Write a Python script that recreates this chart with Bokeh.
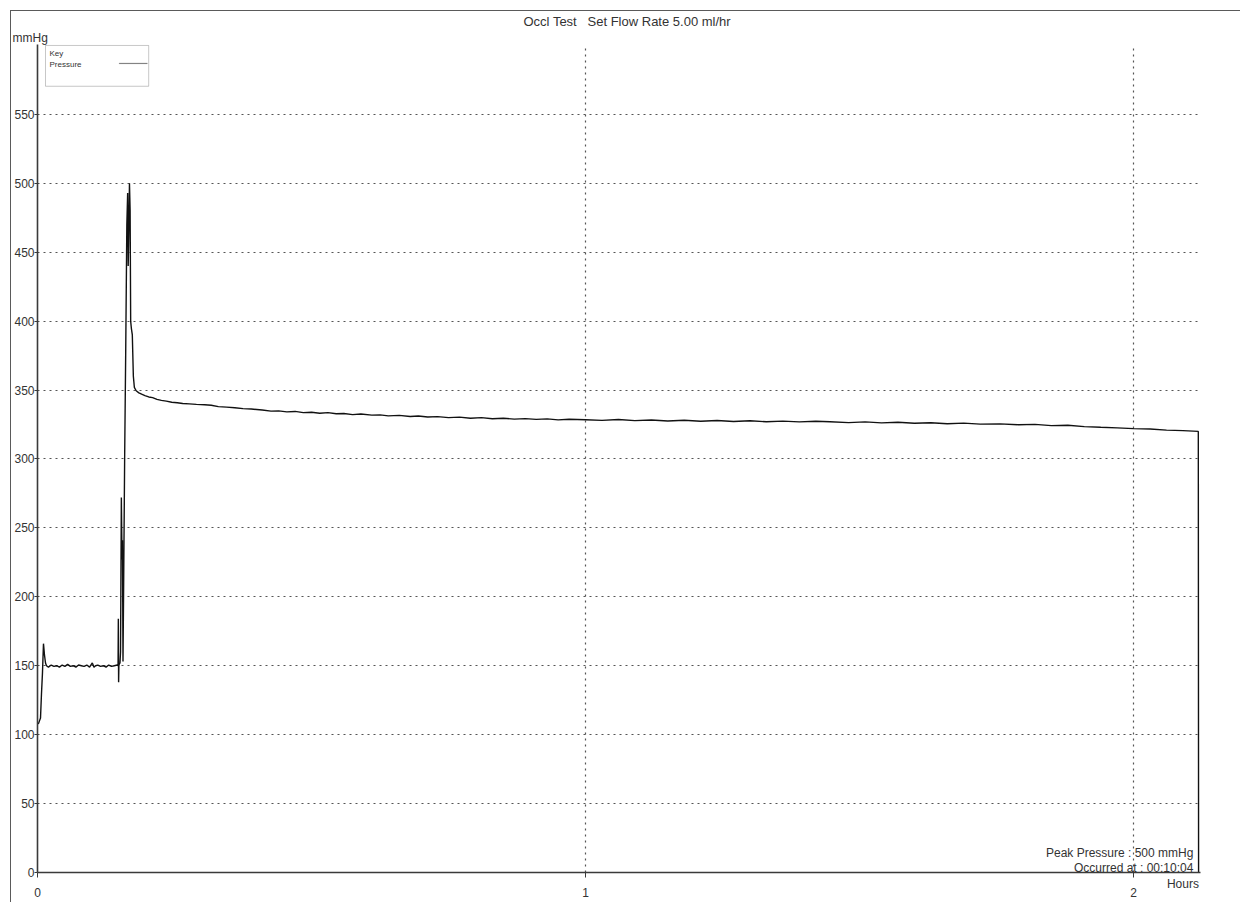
from bokeh.plotting import figure
from bokeh.models import Range1d, FixedTicker, Label, BoxAnnotation, Title, LinearAxis
from bokeh.embed import file_html
from bokeh.resources import INLINE

# ---- data (hours, mmHg) ----
time_h = [0.000, 0.0018, 0.0036, 0.0055, 0.0073, 0.0091, 0.0109, 0.0127, 0.0146, 0.0164,
          0.020, 0.025, 0.030, 0.035, 0.040, 0.045, 0.050, 0.055, 0.060, 0.065,
          0.070, 0.075, 0.080, 0.085, 0.090, 0.095, 0.100, 0.103, 0.106, 0.110,
          0.115, 0.120, 0.125, 0.130, 0.135, 0.140, 0.1455, 0.1470, 0.1475, 0.1480,
          0.1485, 0.1490, 0.1505, 0.1515, 0.1530, 0.1540, 0.1545, 0.1550, 0.1560, 0.1570,
          0.1590, 0.1610, 0.1630, 0.1645, 0.1655, 0.1668, 0.1678, 0.1690, 0.1700, 0.1712,
          0.1730, 0.1749, 0.1767, 0.180, 0.185, 0.190, 0.196, 0.203, 0.210, 0.218,
          0.226, 0.235, 0.245, 0.255, 0.265, 0.277, 0.290, 0.305, 0.317, 0.330,
          0.345, 0.360, 0.375, 0.390, 0.410, 0.426, 0.440, 0.455, 0.470, 0.485,
          0.500, 0.515, 0.530, 0.545, 0.559, 0.575, 0.590, 0.610, 0.625, 0.640,
          0.660, 0.680, 0.695, 0.712, 0.730, 0.750, 0.770, 0.790, 0.810, 0.830,
          0.850, 0.870, 0.890, 0.910, 0.930, 0.950, 0.970, 1.000, 1.030, 1.060,
          1.090, 1.120, 1.150, 1.180, 1.210, 1.240, 1.270, 1.300, 1.330, 1.360,
          1.390, 1.420, 1.446, 1.480, 1.510, 1.540, 1.570, 1.600, 1.630, 1.660,
          1.690, 1.720, 1.756, 1.790, 1.820, 1.850, 1.880, 1.910, 1.940, 1.970,
          2.000, 2.030, 2.060, 2.090, 2.118, 2.1185]
pressure = [108, 108, 110, 112, 130, 145, 166, 158, 152, 150,
            149, 150.5, 149.5, 150, 149, 150.5, 149.5, 151, 149.5, 150,
            149, 150.5, 150, 149.5, 150.5, 149, 152, 149, 150, 150.5,
            149.5, 150, 149, 150.5, 149.5, 150, 150.5, 150, 184, 138,
            150, 151, 152, 160, 272, 235, 227, 241, 153, 200,
            300, 380, 470, 493, 440, 470, 500, 480, 400, 395,
            390, 360, 352, 349.5, 348, 347, 346, 345, 344.5, 343.2,
            342.5, 342.0, 341.2, 340.8, 340.3, 340.0, 339.6, 339.3, 339.0, 338.0,
            337.6, 337.2, 336.5, 336.3, 335.5, 334.7, 334.9, 334.2, 334.5, 333.6,
            333.9, 333.2, 333.6, 332.8, 333.0, 332.2, 332.6, 331.8, 332.0, 331.3,
            331.6, 330.8, 331.2, 330.5, 330.7, 330.0, 330.4, 329.6, 330.0, 329.2,
            329.6, 328.9, 329.3, 328.7, 329.1, 328.4, 328.8, 328.5, 328.0, 328.6,
            327.8, 328.3, 327.6, 328.1, 327.4, 327.9, 327.2, 327.7, 327.0, 327.5,
            326.9, 327.4, 327.0, 326.4, 326.9, 326.2, 326.6, 325.9, 326.3, 325.6,
            326.0, 325.3, 325.5, 324.8, 325.1, 324.2, 324.5, 323.5, 323.0, 322.6,
            322.0, 321.8, 320.9, 320.6, 320.0, 0]

y_ticks = [0, 50, 100, 150, 200, 250, 300, 350, 400, 450, 500, 550]
x_ticks = [0, 1, 2]

title_text = "Occl Test\u00a0\u00a0\u00a0Set Flow Rate 5.00 ml/hr"
y_unit = "mmHg"
x_unit = "Hours"
key_title = "Key"
series_name = "Pressure"
peak_text = "Peak Pressure : 500 mmHg"
occurred_text = "Occurred at : 00:10:04"

FONT = "Liberation Sans"
INK = "#333333"

p = figure(width=1230, height=892, output_backend="svg", toolbar_location=None,
           x_range=Range1d(0, 2.122), y_range=Range1d(0, 600.7),
           min_border_left=22, min_border_right=41, min_border_top=27,
           min_border_bottom=31)
p.outline_line_color = None
p.background_fill_color = "white"
p.border_fill_color = "white"
# page frame of the printout
p.styles = {"border-left": "1.5px solid #5a5a5a", "border-top": "1.5px solid #5a5a5a",
            "margin-left": "10px", "margin-top": "10px"}

# titles (first added sits closest to the plot)
p.add_layout(Title(text=y_unit, align="left", offset=-25, standoff=0,
                   text_font=FONT, text_font_size="12px", text_font_style="normal",
                   text_color=INK), "above")
p.add_layout(Title(text=title_text, align="left", offset=486, standoff=0,
                   text_font=FONT, text_font_size="13px", text_font_style="normal",
                   text_color=INK), "above")

for ax in (p.xaxis[0], p.yaxis[0]):
    ax.axis_line_color = "#3a3a3a"
    ax.axis_line_width = 1.6
    ax.major_tick_line_color = "#3a3a3a"
    ax.major_tick_in = 0
    ax.minor_tick_line_color = None
    ax.major_label_text_font = FONT
    ax.major_label_text_font_size = "12px"
    ax.major_label_text_color = INK

p.yaxis.ticker = FixedTicker(ticks=y_ticks)
p.yaxis.major_tick_out = 3
p.yaxis.major_label_standoff = 0
p.xaxis.ticker = FixedTicker(ticks=x_ticks)
p.xaxis.major_tick_out = 5
p.xaxis.major_label_standoff = 10

# unit label of the time axis, placed just under the axis at its right end
hours_axis = LinearAxis(ticker=FixedTicker(ticks=[2.09]),
                        major_label_overrides={2.09: x_unit},
                        axis_line_color=None, major_tick_line_color=None,
                        minor_tick_line_color=None, major_tick_out=0, major_tick_in=0,
                        major_label_standoff=-23, major_label_text_font=FONT,
                        major_label_text_font_size="12px", major_label_text_color=INK)
p.add_layout(hours_axis, "below")

p.ygrid.ticker = FixedTicker(ticks=y_ticks)
p.xgrid.ticker = FixedTicker(ticks=x_ticks)
for g in (p.xgrid[0], p.ygrid[0]):
    g.grid_line_color = "#555555"
    g.grid_line_dash = "2 4"
    g.grid_line_width = 1.2

p.line(time_h, pressure, line_color="#111111", line_width=1.4)

# key box
p.add_layout(BoxAnnotation(left=0.0146, right=0.2029, top=600.0, bottom=570.4,
                           fill_color="white", fill_alpha=1, line_color="#444444",
                           line_width=1))
p.add_layout(BoxAnnotation(left=0.149, right=0.2004, top=587.3, bottom=586.7,
                           fill_color="#666666", fill_alpha=1, line_color="#666666",
                           line_width=0.6))
p.add_layout(Label(x=0.0219, y=594.5, text=key_title, text_font=FONT, text_font_size="8px",
                   text_color=INK, text_baseline="middle"))
p.add_layout(Label(x=0.0219, y=586.5, text=series_name, text_font=FONT, text_font_size="8px",
                   text_color=INK, text_baseline="middle"))

# peak annotation
p.add_layout(Label(x=2.109, y=14.0, text=peak_text, text_font=FONT, text_font_size="12px",
                   text_color=INK, text_baseline="middle", text_align="right"))
p.add_layout(Label(x=2.109, y=3.5, text=occurred_text, text_font=FONT, text_font_size="12px",
                   text_color=INK, text_baseline="middle", text_align="right"))

open("out.html", "w").write(file_html(p, INLINE))
